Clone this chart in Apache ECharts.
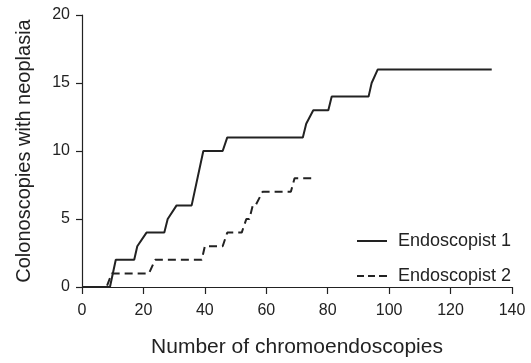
<!DOCTYPE html>
<html>
<head>
<meta charset="utf-8">
<script src="https://cdn.jsdelivr.net/npm/echarts@6/dist/echarts.min.js"></script>
<style>
  html, body { margin: 0; padding: 0; background: #fff; }
  #main { width: 531px; height: 363px; }
</style>
</head>
<body>
<div id="main"></div>
<script>
// x = number of chromoendoscopies, y = colonoscopies with neoplasia (cumulative)
const endo1X = [0, 9.1, 11, 17, 18, 18.5, 21, 26.8, 27.9, 28.5, 30.8, 35.7, 39.5, 45.8, 47.3, 71.9, 73, 73.6, 75.3, 80.2, 81.3, 93.3, 94.3, 94.8, 96.3, 133.4];
const endo1Y = [0, 0, 2, 2, 3, 3, 4, 4, 5, 5, 6, 6, 10, 10, 11, 11, 12, 12, 13, 13, 14, 14, 15, 15, 16, 16];
const endo2X = [0, 8.0, 9.7, 21.8, 23.8, 39, 40, 45.8, 47.3, 52, 53.5, 54.5, 55.6, 56.5, 58.8, 68, 69.2, 75.3];
const endo2Y = [0, 0, 1, 1, 2, 2, 3, 3, 4, 4, 5, 5, 6, 6, 7, 7, 8, 8];
const seriesNames = ['Endoscopist 1', 'Endoscopist 2'];

const zip = (xs, ys) => xs.map((x, i) => [x, ys[i]]);

const FONT = 'Liberation Sans, Arial, Helvetica, sans-serif';
const INK = '#222';

// legend icons: plain line and dashed line
const solidIcon = 'path://M0,0h30v2h-30z';
const dashIcon = 'path://M0,0h7v2h-7z M11,0h7v2h-7z M22,0h8v2h-8z';

const myChart = echarts.init(document.getElementById('main'));
myChart.setOption({
  animation: false,
  grid: { left: 82, right: 19, top: 15, bottom: 66 },
  legend: {
    orient: 'vertical',
    left: 352,
    top: 227,
    itemWidth: 30,
    itemHeight: 14,
    itemGap: 17,
    itemStyle: { borderWidth: 0 },
    lineStyle: { width: 0 },
    textStyle: { fontFamily: FONT, fontSize: 18, color: INK, padding: [0, 0, 0, 6] },
    data: [
      { name: seriesNames[0], icon: solidIcon },
      { name: seriesNames[1], icon: dashIcon }
    ]
  },
  xAxis: {
    type: 'value',
    min: 0, max: 140, interval: 20,
    name: 'Number of chromoendoscopies',
    nameLocation: 'middle',
    nameGap: 50,
    nameTextStyle: { fontFamily: FONT, fontSize: 21, color: INK },
    axisLine: { onZero: false, lineStyle: { color: INK, width: 1.2 } },
    axisTick: { length: 7, lineStyle: { color: INK, width: 1.2 } },
    axisLabel: { fontFamily: FONT, fontSize: 16, color: INK, margin: 16 },
    splitLine: { show: false }
  },
  yAxis: {
    type: 'value',
    min: 0, max: 20, interval: 5,
    name: 'Colonoscopies with neoplasia',
    nameLocation: 'middle',
    nameGap: 48,
    nameTextStyle: { fontFamily: FONT, fontSize: 20, color: INK },
    axisLine: { show: true, lineStyle: { color: INK, width: 1.2 } },
    axisTick: { show: true, length: 6, lineStyle: { color: INK, width: 1.2 } },
    axisLabel: { fontFamily: FONT, fontSize: 16, color: INK, margin: 12 },
    splitLine: { show: false }
  },
  series: [
    {
      name: seriesNames[0],
      type: 'line',
      symbol: 'none',
      data: zip(endo1X, endo1Y),
      lineStyle: { color: INK, width: 2 },
      itemStyle: { color: INK }
    },
    {
      name: seriesNames[1],
      type: 'line',
      symbol: 'none',
      data: zip(endo2X, endo2Y),
      lineStyle: { color: INK, width: 2, type: [8, 5] },
      itemStyle: { color: INK }
    }
  ]
});
</script>
</body>
</html>
